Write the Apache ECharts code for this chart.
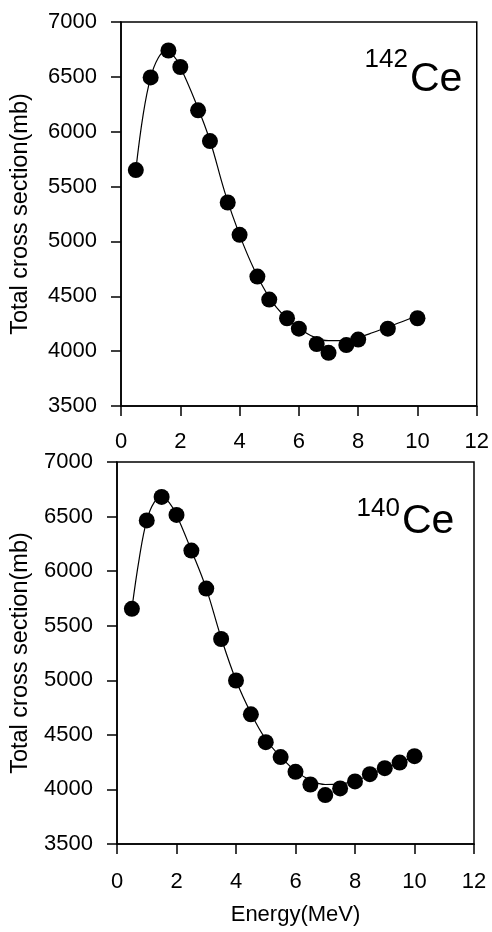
<!DOCTYPE html>
<html><head><meta charset="utf-8">
<script src="https://cdn.jsdelivr.net/npm/echarts@6/dist/echarts.min.js"></script>
<style>html,body{margin:0;padding:0;background:#fff}#c{width:492px;height:932px}</style>
</head><body><div id="c"></div>
<script>
// ---- data ----
const xTicks = [0, 2, 4, 6, 8, 10, 12];
const yTicks = [3500, 4000, 4500, 5000, 5500, 6000, 6500, 7000];

const ce142Energy = [0.5, 1.0, 1.6, 2.0, 2.6, 3.0, 3.6, 4.0, 4.6, 5.0, 5.6, 6.0, 6.6, 7.0, 7.6, 8.0, 9.0, 10.0];
const ce142Sigma  = [5650, 6495, 6740, 6590, 6195, 5915, 5355, 5060, 4680, 4470, 4300, 4205, 4065, 3985, 4055, 4105, 4205, 4300];
const ce142FitE   = [0.5, 0.75, 1.0, 1.25, 1.5, 1.75, 2.0, 2.5, 3.0, 3.5, 4.0, 4.5, 5.0, 5.5, 6.0, 6.5, 7.0, 7.5, 8.0, 8.5, 9.0, 9.5, 10.0];
const ce142FitS   = [5650, 6160, 6495, 6670, 6735, 6700, 6590, 6280, 5920, 5450, 5060, 4740, 4490, 4320, 4210, 4130, 4095, 4095, 4125, 4170, 4220, 4270, 4325];

const ce140Energy = [0.5, 1.0, 1.5, 2.0, 2.5, 3.0, 3.5, 4.0, 4.5, 5.0, 5.5, 6.0, 6.5, 7.0, 7.5, 8.0, 8.5, 9.0, 9.5, 10.0];
const ce140Sigma  = [5655, 6465, 6680, 6515, 6188, 5840, 5378, 4998, 4688, 4433, 4296, 4161, 4045, 3948, 4009, 4073, 4140, 4195, 4246, 4305];
const ce140FitE   = [0.5, 0.75, 1.0, 1.25, 1.5, 1.75, 2.0, 2.5, 3.0, 3.5, 4.0, 4.5, 5.0, 5.5, 6.0, 6.5, 7.0, 7.5, 8.0, 8.5, 9.0, 9.5, 10.0];
const ce140FitS   = [5655, 6120, 6465, 6630, 6680, 6630, 6515, 6190, 5840, 5390, 5000, 4700, 4460, 4300, 4170, 4085, 4045, 4050, 4080, 4130, 4190, 4245, 4305];

const isotopeLabels = ['142', '140'];
const xName = 'Energy(MeV)';
const yName = 'Total cross section(mb)';

// ---- chart ----
const FONT = '"Liberation Sans", Arial, Helvetica, sans-serif';
const pair = (xs, ys) => xs.map((x, i) => [x, ys[i]]);

function xAxis(gi, name, margin) {
  return {
    type: 'value', gridIndex: gi, min: xTicks[0], max: xTicks[xTicks.length - 1], interval: 2,
    axisLine: { show: true, onZero: false, lineStyle: { color: '#000', width: 1.5 } },
    axisTick: { show: true, inside: false, length: 10, lineStyle: { color: '#000', width: 1.5 } },
    axisLabel: { color: '#000', fontSize: 22, fontFamily: FONT, margin: margin, formatter: v => String(v) },
    splitLine: { show: false },
    name: name, nameLocation: 'middle', nameGap: 60,
    nameTextStyle: { color: '#000', fontSize: 22, fontFamily: FONT }
  };
}
function yAxis(gi, margin, gap) {
  return {
    type: 'value', gridIndex: gi, min: yTicks[0], max: yTicks[yTicks.length - 1], interval: 500,
    axisLine: { show: true, onZero: false, lineStyle: { color: '#000', width: 1.5 } },
    axisTick: { show: true, inside: false, length: 10, lineStyle: { color: '#000', width: 1.5 } },
    axisLabel: { color: '#000', fontSize: 22, fontFamily: FONT, margin: margin, formatter: v => String(v) },
    splitLine: { show: false },
    name: yName, nameLocation: 'middle', nameGap: gap, nameRotate: 90,
    nameTextStyle: { color: '#000', fontSize: 23.5, fontFamily: FONT }
  };
}
function scatter(i, data) {
  return { type: 'scatter', xAxisIndex: i, yAxisIndex: i, data: data, symbol: 'circle', symbolSize: 16,
           itemStyle: { color: '#000', opacity: 1 }, z: 3, silent: true };
}
function fit(i, data) {
  return { type: 'line', xAxisIndex: i, yAxisIndex: i, data: data, smooth: 0.4, showSymbol: false,
           lineStyle: { color: '#000', width: 1.2 }, z: 2, silent: true };
}

const chart = echarts.init(document.getElementById('c'), null, { renderer: 'canvas' });
chart.setOption({
  backgroundColor: '#fff',
  animation: false,
  grid: [
    { left: 121, top: 22, width: 357, height: 384, show: true, borderColor: '#000', borderWidth: 1.5, backgroundColor: 'transparent' },
    { left: 117, top: 462, width: 357, height: 382, show: true, borderColor: '#000', borderWidth: 1.5, backgroundColor: 'transparent' }
  ],
  xAxis: [xAxis(0, '', 25), xAxis(1, xName, 27)],
  yAxis: [yAxis(0, 24, 88), yAxis(1, 24, 84)],
  series: [
    fit(0, pair(ce142FitE, ce142FitS)),
    scatter(0, pair(ce142Energy, ce142Sigma)),
    fit(1, pair(ce140FitE, ce140FitS)),
    scatter(1, pair(ce140Energy, ce140Sigma))
  ],
  graphic: [
    { type: 'text', right: 492 - 408, top: 47, style: { text: isotopeLabels[0], font: '26px ' + FONT, fill: '#000' } },
    { type: 'text', left: 410, top: 59, style: { text: 'Ce', font: '41px ' + FONT, fill: '#000' } },
    { type: 'text', right: 492 - 400, top: 496, style: { text: isotopeLabels[1], font: '26px ' + FONT, fill: '#000' } },
    { type: 'text', left: 402, top: 501, style: { text: 'Ce', font: '41px ' + FONT, fill: '#000' } }
  ]
});
</script>
</body></html>
